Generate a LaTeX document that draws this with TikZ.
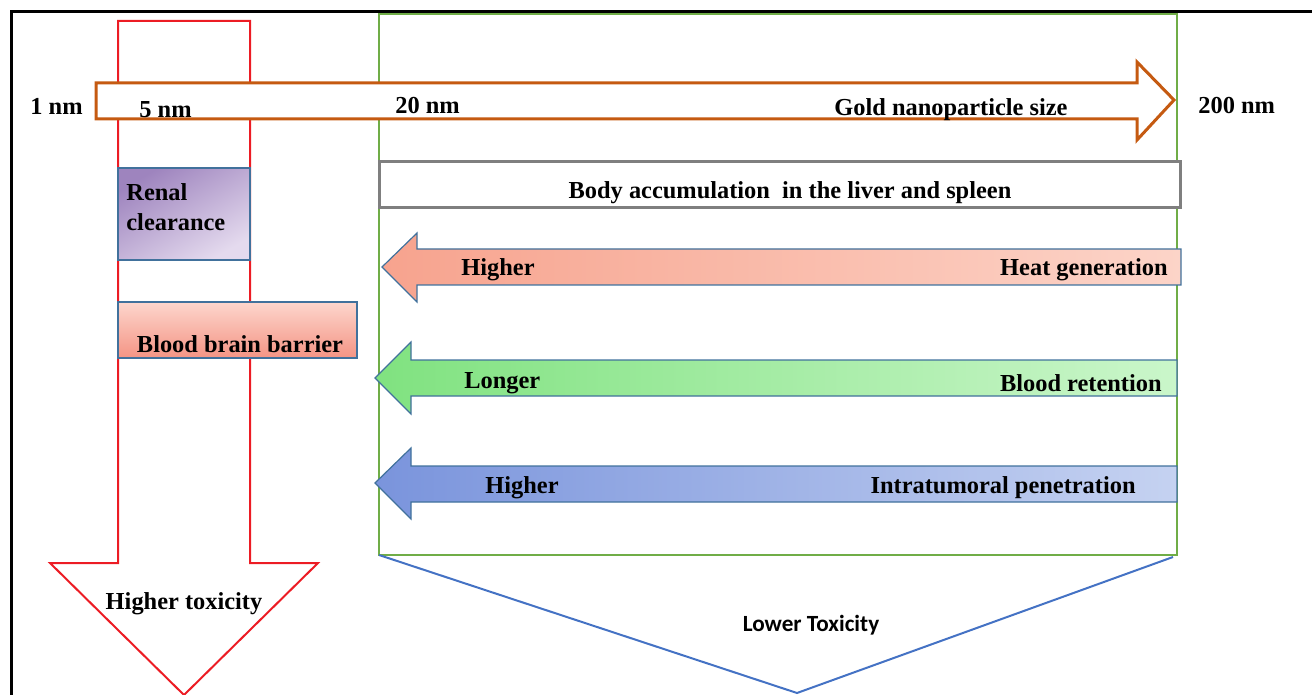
\documentclass[tikz,border=0pt]{standalone}
\usepackage{fontspec}
\setmainfont{Liberation Serif}
\newfontfamily\lowfont{Carlito}
\usepackage{tikz}
\usetikzlibrary{calc}

\definecolor{colred}{RGB}{236,28,36}
\definecolor{boxgreen}{RGB}{112,173,71}
\definecolor{chevblue}{RGB}{68,114,196}
\definecolor{sizeorange}{RGB}{197,90,17}
\definecolor{accgray}{RGB}{127,127,127}
\definecolor{edgeblue}{RGB}{65,113,156}
\definecolor{heatdark}{RGB}{247,163,142}
\definecolor{heatlight}{RGB}{252,212,200}
\definecolor{retdark}{RGB}{128,226,128}
\definecolor{retlight}{RGB}{202,246,202}
\definecolor{tumdark}{RGB}{122,148,220}
\definecolor{tumlight}{RGB}{197,210,241}
\definecolor{rendark}{RGB}{158,132,190}
\definecolor{renlight}{RGB}{228,218,238}
\definecolor{bbbtop}{RGB}{253,214,205}
\definecolor{bbbbot}{RGB}{244,148,132}

\tikzset{
  lbl/.style={font=\fontsize{12.2}{15}\selectfont\bfseries, inner sep=0pt},
  bandarrow/.style={draw=edgeblue, line width=0.6pt},
}

\begin{document}
\begin{tikzpicture}[x=0.5pt,y=-0.5pt]
\useasboundingbox (0,0) rectangle (1312,695);

% frame
\draw[line width=1.5pt] (11,695) -- (11,12) -- (1312,12);

% red column turning into the toxicity arrow
\draw[colred, line width=1pt] (118,21) -- (250,21) -- (250,563) -- (318,563)
  -- (184,695) -- (50,563) -- (118,563) -- cycle;

% green range and the blue chevron under it
\draw[boxgreen, line width=1pt] (379,14) rectangle (1177,555);
\draw[chevblue, line width=1pt] (379,555) -- (797,693) -- (1173,557);

% size axis
\draw[sizeorange, line width=1.5pt, fill=white] (96,83) -- (1137,83) -- (1137,62)
  -- (1174,100) -- (1137,140) -- (1137,119) -- (96,119) -- cycle;

% boxes
\draw[edgeblue, line width=0.6pt, top color=rendark, bottom color=renlight, shading angle=30]
  (118,168) rectangle (250,260);
\draw[edgeblue, line width=0.6pt, top color=bbbtop, bottom color=bbbbot]
  (118,302) rectangle (357,358);
\draw[accgray, line width=1.5pt, fill=white] (379,162) rectangle (1180,208);

% property arrows
\draw[bandarrow, left color=heatdark, right color=heatlight] (382,267) -- (417,233)
  -- (417,249) -- (1181,249) -- (1181,285) -- (417,285) -- (417,302) -- cycle;
\draw[bandarrow, left color=retdark, right color=retlight] (375,378) -- (411,342)
  -- (411,360) -- (1177,360) -- (1177,396) -- (411,396) -- (411,414) -- cycle;
\draw[bandarrow, left color=tumdark, right color=tumlight] (375,483) -- (411,448)
  -- (411,466) -- (1177,466) -- (1177,502) -- (411,502) -- (411,519) -- cycle;

% labels
\node[lbl, anchor=west] (s1) at (30,106) {1 nm};
\node[lbl, anchor=west] (s5) at (139,110) {5 nm};
\node[lbl, anchor=west] (s20) at (395,106) {20 nm};
\node[lbl, anchor=west] (gold) at (834,110) {Gold nanoparticle size};
\node[lbl, anchor=west] (s200) at (1198,106) {200 nm};

\node[lbl, anchor=north west, align=left] (renal) at (126,183) {Renal\\clearance};
\node[lbl] (bbb) at (240,344) {Blood brain barrier};
\node[lbl] (acc) at (790,193) {Body accumulation \ in the liver and spleen};

\node[lbl, anchor=west] (heatlo) at (461,270) {Higher};
\node[lbl, anchor=east] (heat) at (1168,270) {Heat generation};
\node[lbl, anchor=west] (retlo) at (464,383) {Longer};
\node[lbl, anchor=east] (ret) at (1162,383) {Blood retention};
\node[lbl, anchor=west] (tumlo) at (485,488) {Higher};
\node[lbl, anchor=east] (tum) at (1136,488) {Intratumoral penetration};

\node[lbl] (hitox) at (184,604) {Higher toxicity};
\node[inner sep=0pt, font=\lowfont\fontsize{11.6}{13}\selectfont\bfseries] (lotox) at (811,625) {Lower Toxicity};
\end{tikzpicture}
\end{document}
